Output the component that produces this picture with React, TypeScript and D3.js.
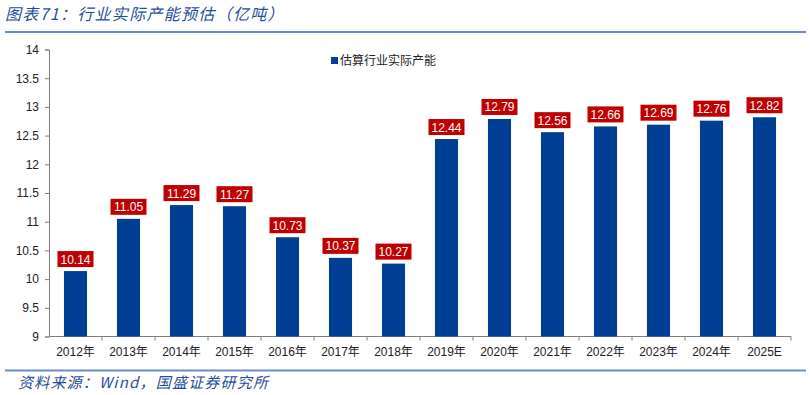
import * as d3 from 'd3';
import React, { useEffect, useRef } from 'react';

const years = ['2012年', '2013年', '2014年', '2015年', '2016年', '2017年', '2018年', '2019年', '2020年', '2021年', '2022年', '2023年', '2024年', '2025E'];
const capacity = [10.14, 11.05, 11.29, 11.27, 10.73, 10.37, 10.27, 12.44, 12.79, 12.56, 12.66, 12.69, 12.76, 12.82];
const yTicks = [9, 9.5, 10, 10.5, 11, 11.5, 12, 12.5, 13, 13.5, 14];
const seriesName = '估算行业实际产能';

const width = 811;
const height = 395;
const margin = { left: 49, right: 20, top: 49.5, bottom: 58.5 };
const numFont = '"Liberation Sans", Arial, "Noto Sans CJK SC", sans-serif';
const cjkFont = '"Noto Sans CJK SC", "Liberation Sans", sans-serif';

const App = () => {
  const svgRef = useRef<SVGSVGElement | null>(null);

  useEffect(() => {
    const svg = d3.select(svgRef.current);
    svg.selectAll('*').remove();

    const x = d3
      .scaleBand()
      .domain(years)
      .range([margin.left, 791])
      .paddingInner(0.565)
      .paddingOuter(0.2825);
    const y = d3
      .scaleLinear()
      .domain([9, 14])
      .range([height - margin.bottom, margin.top]);

    // title + rules
    svg
      .append('text')
      .attr('x', 5)
      .attr('y', 20)
      .attr('fill', '#1f4e9c')
      .style('font-family', cjkFont)
      .style('font-style', 'italic')
      .style('font-size', '16px')
      .style('letter-spacing', '1.3px')
      .text('图表71：行业实际产能预估（亿吨）');
    svg.append('line').attr('x1', 5).attr('x2', 806).attr('y1', 32).attr('y2', 32)
      .attr('stroke', '#6a8fc8').attr('stroke-width', 2);
    svg.append('line').attr('x1', 5).attr('x2', 806).attr('y1', 370.5).attr('y2', 370.5)
      .attr('stroke', '#6a8fc8').attr('stroke-width', 2);
    svg
      .append('text')
      .attr('x', 18)
      .attr('y', 388)
      .attr('fill', '#1f4e9c')
      .style('font-family', cjkFont)
      .style('font-style', 'italic')
      .style('font-size', '15px')
      .style('letter-spacing', '1.2px')
      .text('资料来源：Wind，国盛证券研究所');

    // y axis
    const yAxis = svg
      .append('g')
      .attr('transform', `translate(${margin.left},0)`)
      .call(d3.axisLeft(y).tickValues(yTicks).tickSize(4).tickPadding(6).tickFormat((d) => `${d}`));
    yAxis.select('.domain').attr('stroke', '#7f7f7f');
    yAxis.selectAll('.tick line').attr('stroke', '#7f7f7f');
    yAxis.selectAll('.tick text')
      .attr('fill', '#222')
      .style('font-family', numFont)
      .style('font-size', '12px');

    // x axis
    const x0 = y(9);
    svg.append('line').attr('x1', margin.left).attr('x2', 791).attr('y1', x0).attr('y2', x0)
      .attr('stroke', '#7f7f7f');
    d3.range(1, years.length + 1).forEach((i) => {
      const tx = margin.left + (791 - margin.left) * (i / years.length);
      svg.append('line').attr('x1', tx).attr('x2', tx).attr('y1', x0).attr('y2', x0 + 4)
        .attr('stroke', '#7f7f7f');
    });
    svg
      .append('g')
      .selectAll('text')
      .data(years)
      .enter()
      .append('text')
      .attr('x', (d) => (x(d) as number) + x.bandwidth() / 2)
      .attr('y', x0 + 19)
      .attr('text-anchor', 'middle')
      .attr('fill', '#222')
      .style('font-family', numFont)
      .style('font-size', '12px')
      .text((d) => d);

    // bars
    svg
      .append('g')
      .selectAll('rect')
      .data(capacity)
      .enter()
      .append('rect')
      .attr('x', (d, i) => x(years[i]) as number)
      .attr('y', (d) => y(d))
      .attr('width', x.bandwidth())
      .attr('height', (d) => x0 - y(d))
      .attr('fill', '#003f94');

    // labels
    const labels = svg
      .append('g')
      .selectAll('g')
      .data(capacity)
      .enter()
      .append('g')
      .attr('transform', (d, i) => `translate(${(x(years[i]) as number) + x.bandwidth() / 2},${y(d) - 4})`);
    labels
      .append('rect')
      .attr('x', -18)
      .attr('y', -16)
      .attr('width', 36)
      .attr('height', 16)
      .attr('fill', '#c00000');
    labels
      .append('text')
      .attr('y', -3.5)
      .attr('text-anchor', 'middle')
      .attr('fill', '#fff')
      .style('font-family', numFont)
      .style('font-size', '12px')
      .text((d) => d.toFixed(2));

    // legend
    svg.append('rect').attr('x', 331).attr('y', 57).attr('width', 7).attr('height', 7).attr('fill', '#003f94');
    svg
      .append('text')
      .attr('x', 340)
      .attr('y', 65)
      .attr('fill', '#222')
      .style('font-family', cjkFont)
      .style('font-size', '12px')
      .text(seriesName);
  }, []);

  return (
    <svg
      ref={svgRef}
      width={width}
      height={height}
      style={{ position: 'absolute', left: 0, top: 0, background: 'white' }}
    />
  );
};

export default App;
